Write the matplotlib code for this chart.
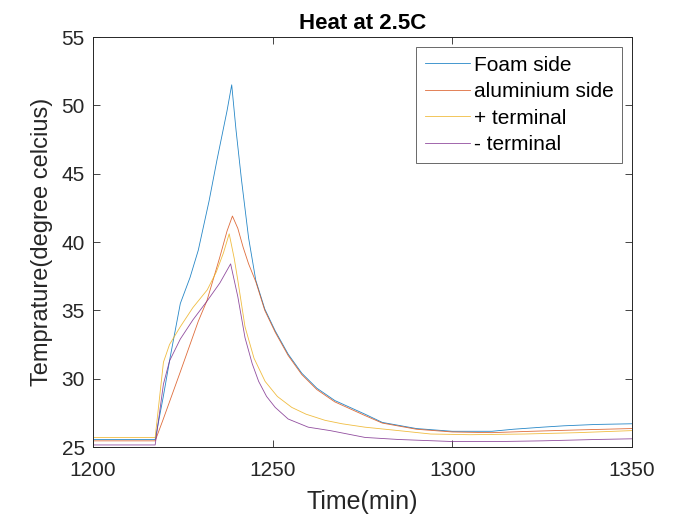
import numpy as np
import matplotlib.pyplot as plt

plt.rcParams['font.family'] = ['Liberation Sans', 'DejaVu Sans']

# Temperature logs around the 2.5C heating pulse
foam_t = [1200, 1217.3, 1219.5, 1221.5, 1224.3, 1227, 1229.3, 1232.3, 1234.5, 1237.3, 1238.6, 1239.8, 1241.3,
          1243.3, 1245.3, 1247.8, 1250.7, 1254.3, 1258.1, 1262.3, 1267.3, 1275.7, 1280.5, 1290, 1300, 1311,
          1317, 1325, 1331, 1340, 1350]
foam_temp = [25.55, 25.55, 28.6, 31.6, 35.5, 37.4, 39.4, 43.0, 46.0, 49.6, 51.5, 48.2, 44.6,
             40.3, 37.2, 35.1, 33.5, 31.8, 30.4, 29.3, 28.4, 27.4, 26.8, 26.35, 26.15, 26.15,
             26.3, 26.45, 26.55, 26.65, 26.7]

alu_t = [1200, 1217.3, 1219.5, 1224.3, 1229.3, 1231.7, 1235.3, 1237.3, 1238.8, 1240.3, 1241.8, 1243.3,
         1245.3, 1247.8, 1250.7, 1254.3, 1258.1, 1262.3, 1267.3, 1275.7, 1280.5, 1290, 1300, 1311, 1322,
         1335, 1350]
alu_temp = [25.45, 25.45, 27.0, 30.5, 34.2, 35.7, 38.9, 40.8, 41.9, 41.0, 39.6, 38.4,
            37.1, 35.0, 33.4, 31.7, 30.3, 29.2, 28.3, 27.3, 26.75, 26.3, 26.1, 26.05, 26.15,
            26.25, 26.35]

plus_t = [1200, 1217.3, 1219.6, 1221.3, 1224.3, 1227.8, 1231.8, 1234.3, 1236.3, 1237.9, 1239.3, 1240.3,
          1242.3, 1244.8, 1247.9, 1251.3, 1255.3, 1259.3, 1264.6, 1269.3, 1275.7, 1285, 1294, 1305,
          1320, 1335, 1350]
plus_temp = [25.7, 25.7, 31.2, 32.5, 33.8, 35.2, 36.5, 37.8, 39.2, 40.6, 38.8, 37.2,
             33.8, 31.5, 29.8, 28.7, 27.9, 27.4, 26.95, 26.7, 26.45, 26.2, 25.95, 25.9,
             25.95, 26.05, 26.2]

minus_t = [1200, 1217.3, 1219.6, 1221.3, 1224.3, 1227.8, 1231.8, 1235.3, 1238.3, 1239.3, 1240.3, 1242.3,
           1244.3, 1246.1, 1248.3, 1250.7, 1254.3, 1259.9, 1266, 1275.7, 1285, 1300, 1313, 1325,
           1340, 1350]
minus_temp = [25.15, 25.15, 29.6, 31.3, 32.9, 34.3, 35.7, 37.0, 38.4, 37.2, 36.0, 33.0,
              31.1, 29.8, 28.7, 27.9, 27.05, 26.45, 26.2, 25.7, 25.55, 25.4, 25.4, 25.45,
              25.55, 25.6]

series = [
    ("Foam side", foam_t, foam_temp, (0.0, 0.447, 0.741)),
    ("aluminium side", alu_t, alu_temp, (0.85, 0.325, 0.098)),
    ("+ terminal", plus_t, plus_temp, (0.929, 0.694, 0.125)),
    ("- terminal", minus_t, minus_temp, (0.494, 0.184, 0.556)),
]

fig = plt.figure(figsize=(6.8, 5.19), dpi=100)
ax = fig.add_axes([93 / 680, 72 / 519, 539 / 680, 410 / 519])

for name, t, temp, col in series:
    ax.plot(t, temp, color=col, lw=0.6, alpha=0.85, label=name)

ax.set_xlim(1200, 1350)
ax.set_ylim(25, 55)
ax.set_xticks([1200, 1250, 1300, 1350])
ax.set_yticks(np.arange(25, 56, 5))
ax.tick_params(direction='in', top=True, right=True, labelsize=15, length=5, width=0.6,
               colors='#262626')
ax.tick_params(axis='x', pad=10)
ax.tick_params(axis='y', pad=6)
for sp in ax.spines.values():
    sp.set_linewidth(0.7)
    sp.set_color('#262626')

ax.set_xlabel("Time(min)", fontsize=18, color='#262626', labelpad=7)
ax.set_ylabel("Temprature(degree celcius)", fontsize=17, color='#262626', labelpad=6)
ax.set_title("Heat at 2.5C", fontsize=16, fontweight='bold', pad=6)

leg = ax.legend(loc='upper right', fontsize=15, frameon=True, fancybox=False, handlelength=2.2,
                handletextpad=0.15, borderpad=0.4, labelspacing=0.36, borderaxespad=0.5)
leg.get_frame().set_edgecolor('#262626')
leg.get_frame().set_linewidth(0.6)

fig.savefig("out.png", dpi=100)
